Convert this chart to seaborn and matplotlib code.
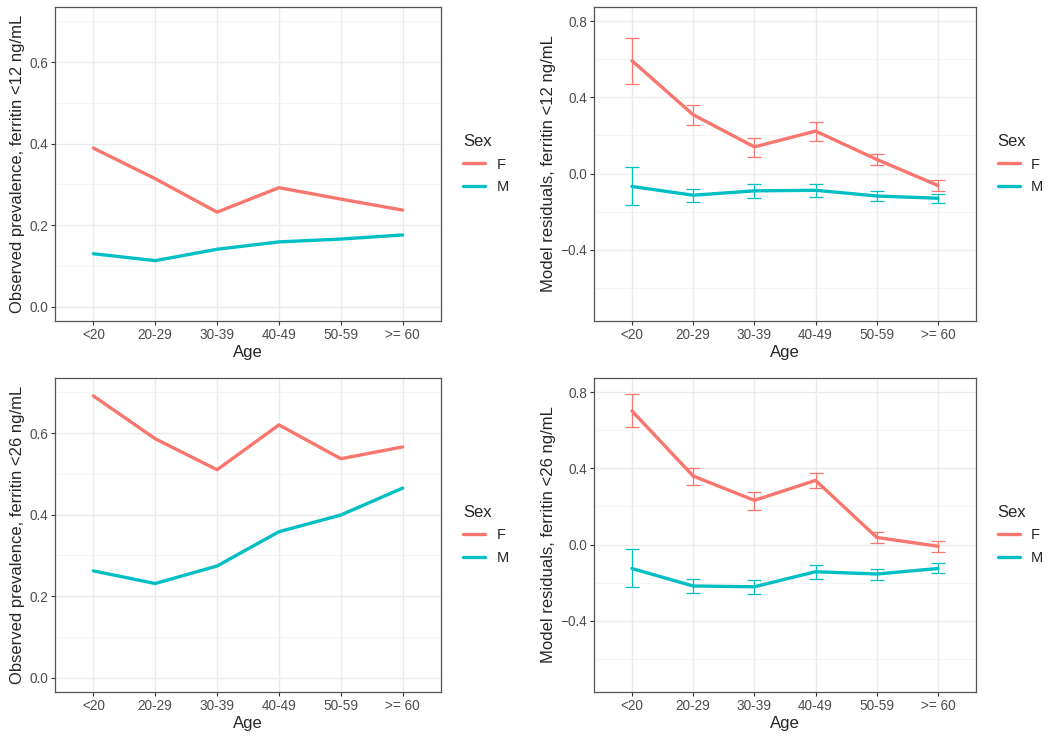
import numpy as np
import pandas as pd
import seaborn as sns
import matplotlib.pyplot as plt
from matplotlib.ticker import MultipleLocator

ages = ["<20", "20-29", "30-39", "40-49", "50-59", ">= 60"]
sexes = ["F", "M"]

# observed prevalence
obs12_f = [0.389, 0.314, 0.232, 0.292, 0.264, 0.237]
obs12_m = [0.130, 0.113, 0.141, 0.159, 0.166, 0.176]
obs26_f = [0.691, 0.586, 0.510, 0.620, 0.537, 0.566]
obs26_m = [0.262, 0.231, 0.274, 0.358, 0.399, 0.465]

# model residuals (mean, lower, upper)
res12_f = [0.593, 0.309, 0.140, 0.223, 0.074, -0.063]
res12_f_lo = [0.468, 0.256, 0.086, 0.172, 0.044, -0.093]
res12_f_hi = [0.712, 0.360, 0.188, 0.270, 0.105, -0.032]
res12_m = [-0.068, -0.114, -0.091, -0.088, -0.118, -0.130]
res12_m_lo = [-0.167, -0.149, -0.128, -0.121, -0.144, -0.154]
res12_m_hi = [0.032, -0.081, -0.054, -0.053, -0.091, -0.105]

res26_f = [0.702, 0.360, 0.232, 0.337, 0.037, -0.009]
res26_f_lo = [0.615, 0.314, 0.183, 0.295, 0.007, -0.038]
res26_f_hi = [0.793, 0.402, 0.278, 0.377, 0.066, 0.021]
res26_m = [-0.126, -0.218, -0.222, -0.143, -0.155, -0.126]
res26_m_lo = [-0.225, -0.253, -0.259, -0.182, -0.185, -0.150]
res26_m_hi = [-0.026, -0.183, -0.185, -0.108, -0.129, -0.098]

pal = {"F": "#F8766D", "M": "#00BFC4"}

sns.set_theme(style="white")
plt.rcParams['font.family'] = ['Liberation Sans', 'DejaVu Sans']


def make_df(f, m, f_lo=None, f_hi=None, m_lo=None, m_hi=None):
    d = pd.DataFrame({"Age": ages * 2, "Sex": ["F"] * 6 + ["M"] * 6,
                      "y": list(f) + list(m)})
    if f_lo is not None:
        d["lo"] = list(f_lo) + list(m_lo)
        d["hi"] = list(f_hi) + list(m_hi)
    return d


def style(ax, ylab, ylim, major, minor):
    ax.set_xlim(-0.62, 5.62)
    ax.set_ylim(*ylim)
    ax.yaxis.set_major_locator(MultipleLocator(major))
    ax.yaxis.set_minor_locator(MultipleLocator(minor))
    ax.grid(True, which="major", color="#EBEBEB", linewidth=1.0)
    ax.grid(True, which="minor", axis="y", color="#F3F3F3", linewidth=0.6)
    ax.set_axisbelow(True)
    for s in ax.spines.values():
        s.set_color("#555555")
        s.set_linewidth(0.9)
    ax.tick_params(axis="both", which="major", length=3, width=0.8, color="#333333",
                   labelsize=9.8, labelcolor="#4D4D4D", pad=2, bottom=True, left=True)
    ax.tick_params(axis="y", which="minor", length=0)
    ax.set_xlabel("Age", fontsize=12, labelpad=2)
    ax.set_ylabel(ylab, fontsize=12, labelpad=3)
    ticks = [v for v in ax.get_yticks() if ylim[0] <= v <= ylim[1]]
    ax.set_yticks(ticks)
    ax.set_yticklabels([("%.1f" % v).replace("-", "\u2212") if abs(v) > 1e-9 else "0.0"
                        for v in ticks])
    ax.set_ylim(*ylim)
    sns.move_legend(ax, "center left", bbox_to_anchor=(1.03, 0.5), title="Sex",
                    frameon=False, fontsize=10.5, title_fontsize=12,
                    handlelength=1.5, labelspacing=0.6, borderaxespad=0.3)
    ax.get_legend()._legend_box.align = "left"


fig = plt.figure(figsize=(10.5, 7.39), dpi=100)
ax1 = fig.add_axes([0.0524, 0.5656, 0.3676, 0.4249])
ax2 = fig.add_axes([0.5657, 0.5656, 0.3638, 0.4249])
ax3 = fig.add_axes([0.0524, 0.0636, 0.3676, 0.4249])
ax4 = fig.add_axes([0.5657, 0.0636, 0.3638, 0.4249])

obs_panels = [(ax1, make_df(obs12_f, obs12_m), "Observed prevalence, ferritin <12 ng/mL"),
              (ax3, make_df(obs26_f, obs26_m), "Observed prevalence, ferritin <26 ng/mL")]
for ax, d, lab in obs_panels:
    sns.lineplot(data=d, x="Age", y="y", hue="Sex", palette=pal, linewidth=2.4,
                 ax=ax, sort=False)
    style(ax, lab, (-0.035, 0.735), 0.2, 0.1)

res_panels = [(ax2, make_df(res12_f, res12_m, res12_f_lo, res12_f_hi, res12_m_lo, res12_m_hi),
               "Model residuals, ferritin <12 ng/mL"),
              (ax4, make_df(res26_f, res26_m, res26_f_lo, res26_f_hi, res26_m_lo, res26_m_hi),
               "Model residuals, ferritin <26 ng/mL")]
for ax, d, lab in res_panels:
    sns.lineplot(data=d, x="Age", y="y", hue="Sex", palette=pal, linewidth=2.4,
                 ax=ax, sort=False, zorder=3)
    for sx in sexes:
        s = d[d["Sex"] == sx]
        ax.errorbar(s["Age"], s["y"], yerr=[s["y"] - s["lo"], s["hi"] - s["y"]],
                    fmt="none", ecolor=pal[sx], elinewidth=0.9, capsize=5,
                    capthick=0.9, zorder=2)
    style(ax, lab, (-0.775, 0.875), 0.4, 0.2)

fig.savefig("out.png", dpi=100)
